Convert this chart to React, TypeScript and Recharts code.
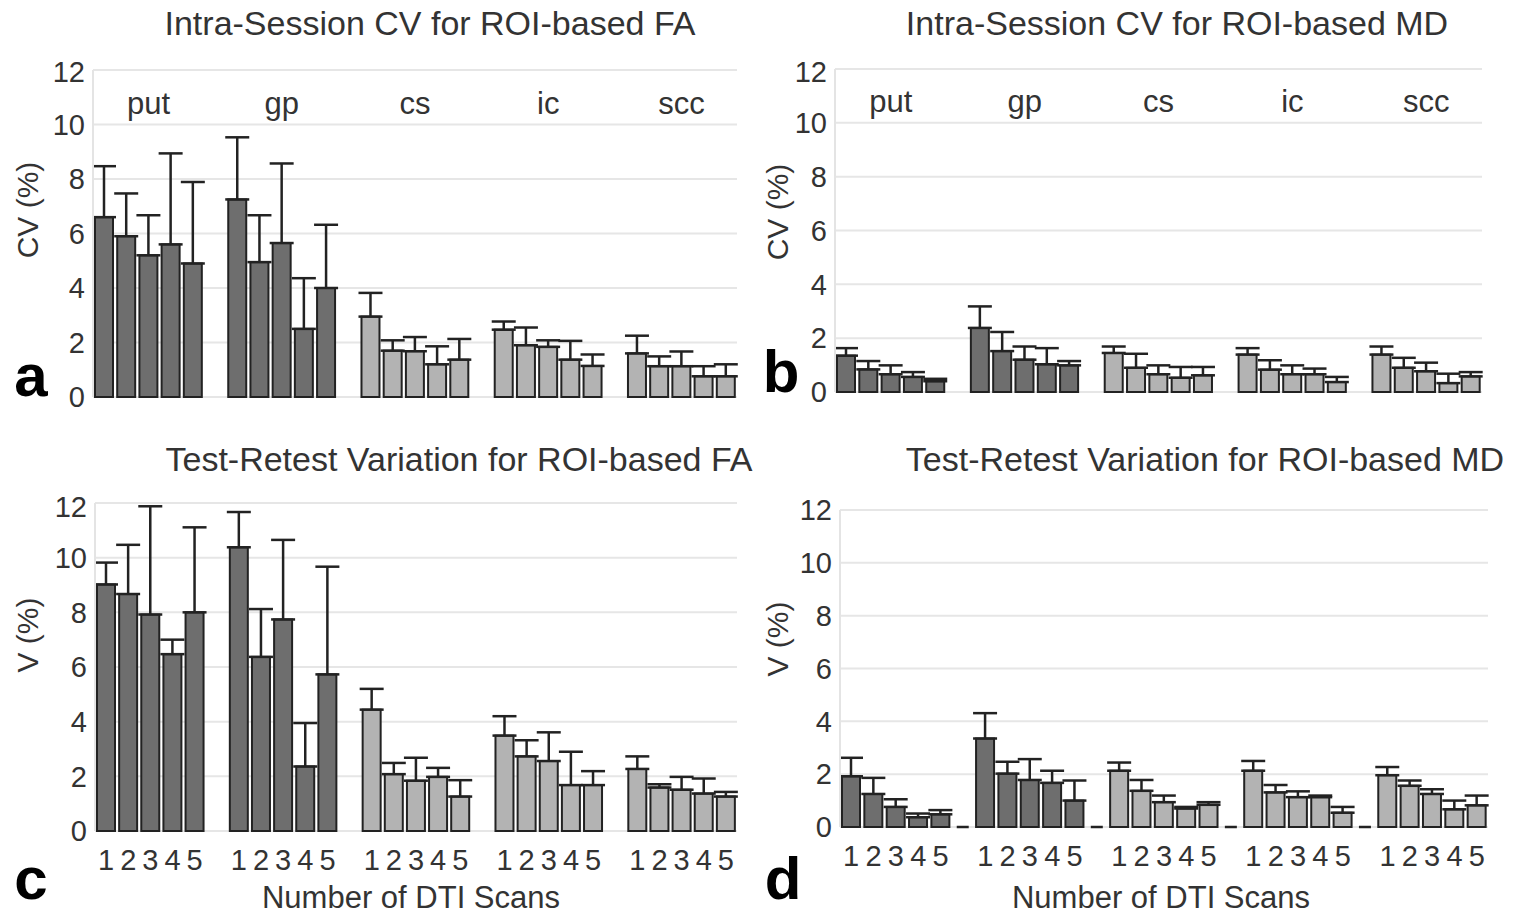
import React from "react"
import { BarChart, Bar, XAxis, YAxis, CartesianGrid, ErrorBar, ReferenceDot } from "recharts"

const GROUPS = ["put", "gp", "cs", "ic", "scc"]
const SCANS = ["1", "2", "3", "4", "5"]
const DARK_GROUPS = ["put", "gp"]
const Y_TICKS = [0, 2, 4, 6, 8, 10, 12]

// bar heights and upper whisker tops, 5 scans per group in GROUPS order
const faCvMean = [6.6, 5.9, 5.2, 5.6, 4.9, 7.25, 4.95, 5.65, 2.5, 4.0, 2.95, 1.7, 1.68, 1.2, 1.37, 2.47, 1.9, 1.84, 1.37, 1.14, 1.6, 1.13, 1.13, 0.76, 0.76]
const faCvTop = [8.47, 7.47, 6.67, 8.94, 7.89, 9.53, 6.67, 8.57, 4.36, 6.32, 3.82, 2.08, 2.2, 1.86, 2.13, 2.77, 2.55, 2.08, 2.06, 1.56, 2.25, 1.49, 1.67, 1.13, 1.2]

const mdCvMean = [1.35, 0.84, 0.66, 0.56, 0.4, 2.38, 1.52, 1.2, 1.03, 0.99, 1.45, 0.9, 0.66, 0.53, 0.62, 1.39, 0.83, 0.66, 0.66, 0.37, 1.39, 0.9, 0.77, 0.33, 0.58]
const mdCvTop = [1.63, 1.15, 0.99, 0.74, 0.49, 3.18, 2.23, 1.69, 1.63, 1.15, 1.69, 1.42, 0.99, 0.93, 0.93, 1.63, 1.18, 0.99, 0.87, 0.56, 1.69, 1.27, 1.09, 0.68, 0.74]

const faVMean = [9.02, 8.67, 7.92, 6.47, 8.0, 10.38, 6.37, 7.74, 2.36, 5.73, 4.44, 2.08, 1.84, 1.98, 1.26, 3.49, 2.73, 2.56, 1.68, 1.68, 2.27, 1.59, 1.51, 1.37, 1.26]
const faVTop = [9.82, 10.47, 11.88, 7.0, 11.11, 11.67, 8.12, 10.65, 3.95, 9.67, 5.2, 2.49, 2.68, 2.31, 1.86, 4.2, 3.32, 3.61, 2.9, 2.19, 2.73, 1.71, 1.98, 1.92, 1.43]

const mdVMean = [1.92, 1.25, 0.76, 0.37, 0.48, 3.35, 2.02, 1.78, 1.67, 1.0, 2.13, 1.37, 0.94, 0.7, 0.84, 2.13, 1.31, 1.13, 1.13, 0.54, 1.96, 1.56, 1.25, 0.67, 0.82]
const mdVTop = [2.62, 1.86, 1.05, 0.51, 0.64, 4.31, 2.47, 2.57, 2.13, 1.76, 2.44, 1.78, 1.19, 0.76, 0.94, 2.5, 1.59, 1.35, 1.19, 0.76, 2.27, 1.76, 1.43, 1.0, 1.19]

const FONT = '"Liberation Sans", Arial, sans-serif'
const TEXT = "#333"
const EDGE = "#222"

function buildRows(mean: number[], top: number[]) {
  const rows: any[] = []
  GROUPS.forEach((g, gi) => {
    if (gi > 0) rows.push({ key: `gap${gi}`, v: 0, e: null, gap: true })
    SCANS.forEach((s, si) => {
      const i = gi * 5 + si
      rows.push({ key: `${g}-${s}`, v: mean[i], e: [0, top[i] - mean[i]], dark: DARK_GROUPS.includes(g) })
    })
  })
  return rows
}

const barShape = (showDash: boolean) => (props: any) => {
  const { x, y, width, height, payload } = props
  if (payload.gap) {
    if (!showDash) return <g />
    const y0 = y + height
    return <line x1={x + 3} x2={x + width - 3} y1={y0} y2={y0} stroke={EDGE} strokeWidth={2.5} />
  }
  return (
    <rect x={x} y={y} width={width} height={height} fill={payload.dark ? "#6e6e6e" : "#b3b3b3"} stroke={EDGE} strokeWidth={2} />
  )
}

interface PanelProps {
  left: number
  top: number
  width: number
  height: number
  margin: { top: number; right: number; left: number; bottom: number }
  yWidth: number
  mean: number[]
  errTop: number[]
  groupLabels?: boolean
  scanTicks?: boolean
  dashes?: boolean
}

function Panel({ left, top, width, height, margin, yWidth, mean, errTop, groupLabels, scanTicks, dashes }: PanelProps) {
  const rows = buildRows(mean, errTop)
  return (
    <div style={{ position: "absolute", left, top }}>
      <BarChart width={width} height={height} data={rows} margin={margin} barCategoryGap={2}>
        <CartesianGrid vertical={false} stroke="#e6e6e6" strokeWidth={2} />
        <XAxis
          dataKey="key"
          hide={!scanTicks}
          interval={0}
          tickLine={false}
          axisLine={false}
          tickSize={0}
          tickMargin={18}
          height={40}
          tick={{ fontSize: 29, fill: TEXT }}
          tickFormatter={(k: string) => (k.startsWith("gap") ? "" : k.split("-")[1])}
        />
        <YAxis
          domain={[0, 12]}
          ticks={Y_TICKS}
          width={yWidth}
          tickLine={false}
          tickSize={0}
          tickMargin={8}
          axisLine={{ stroke: "#e4e4e4", strokeWidth: 2 }}
          tick={{ fontSize: 29, fill: TEXT }}
        />
        <Bar dataKey="v" isAnimationActive={false} shape={barShape(!!dashes)}>
          <ErrorBar dataKey="e" direction="y" width={12} stroke={EDGE} strokeWidth={2.5} />
        </Bar>
        {groupLabels &&
          GROUPS.map((g) => (
            <ReferenceDot
              key={g}
              x={`${g}-3`}
              y={10.8}
              r={0}
              fill="none"
              stroke="none"
              label={{ value: g, position: "center", fontSize: 31, fill: TEXT }}
            />
          ))}
      </BarChart>
    </div>
  )
}

const txt = (s: React.CSSProperties): React.CSSProperties => ({
  position: "absolute",
  transform: "translate(-50%, -50%)",
  whiteSpace: "nowrap",
  color: TEXT,
  fontSize: 34,
  lineHeight: 1,
  ...s,
})

const yLab = (s: React.CSSProperties): React.CSSProperties => ({
  ...txt(s),
  transform: "translate(-50%, -50%) rotate(-90deg)",
  fontSize: 30,
})

const letter = (s: React.CSSProperties): React.CSSProperties => ({
  ...txt(s),
  color: "#000",
  fontWeight: "bold",
  fontSize: 60,
  lineHeight: 1,
})

export default function App() {
  return (
    <div style={{ position: "absolute", left: 0, top: 0, width: 1515, height: 913, background: "#fff", fontFamily: FONT, overflow: "hidden" }}>
      <Panel left={0} top={55} width={760} height={360} margin={{ top: 15, right: 23, left: 0, bottom: 18 }} yWidth={93} mean={faCvMean} errTop={faCvTop} groupLabels />
      <Panel left={760} top={55} width={755} height={360} margin={{ top: 14, right: 33, left: 0, bottom: 23 }} yWidth={75} mean={mdCvMean} errTop={mdCvTop} groupLabels />
      <Panel left={0} top={490} width={760} height={423} margin={{ top: 13, right: 23, left: 0, bottom: 42 }} yWidth={95} mean={faVMean} errTop={faVTop} scanTicks />
      <Panel left={760} top={490} width={755} height={423} margin={{ top: 20, right: 27, left: 0, bottom: 46 }} yWidth={80} mean={mdVMean} errTop={mdVTop} scanTicks dashes />

      <div style={txt({ left: 430, top: 23 })}>Intra-Session CV for ROI-based FA</div>
      <div style={txt({ left: 1177, top: 23 })}>Intra-Session CV for ROI-based MD</div>
      <div style={txt({ left: 459, top: 459 })}>Test-Retest Variation for ROI-based FA</div>
      <div style={txt({ left: 1205, top: 459 })}>Test-Retest Variation for ROI-based MD</div>

      <div style={yLab({ left: 28, top: 210 })}>CV (%)</div>
      <div style={yLab({ left: 778, top: 212 })}>CV (%)</div>
      <div style={yLab({ left: 28, top: 635 })}>V (%)</div>
      <div style={yLab({ left: 778, top: 639 })}>V (%)</div>

      <div style={txt({ left: 411, top: 897, fontSize: 31 })}>Number of DTI Scans</div>
      <div style={txt({ left: 1161, top: 897, fontSize: 31 })}>Number of DTI Scans</div>

      <div style={letter({ left: 31, top: 376 })}>a</div>
      <div style={letter({ left: 781, top: 372 })}>b</div>
      <div style={letter({ left: 31, top: 879 })}>c</div>
      <div style={letter({ left: 783, top: 879 })}>d</div>
    </div>
  )
}
